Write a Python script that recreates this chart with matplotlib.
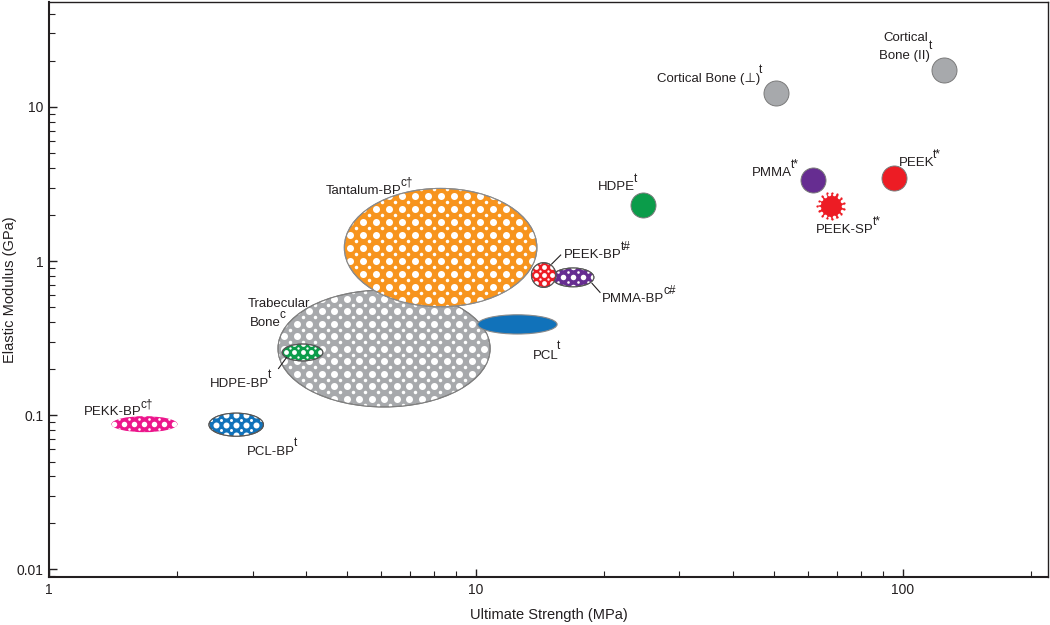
import numpy as np
import matplotlib
matplotlib.use("Agg")
import matplotlib.pyplot as plt
from matplotlib.patches import Ellipse
from matplotlib.transforms import Affine2D
from matplotlib.ticker import LogLocator, NullFormatter, FixedLocator, FixedFormatter

plt.rcParams['font.family'] = ['Liberation Sans', 'DejaVu Sans']

# ---------------- data ----------------
# range-type materials (ellipses): strength range (MPa), modulus range (GPa)
region_names = ['Trabecular Bone', 'Tantalum-BP', 'PCL', 'HDPE-BP',
                'PMMA-BP', 'PEEK-BP', 'PCL-BP', 'PEKK-BP']
strength_lo = [3.44, 4.92, 10.1, 3.52, 15.1, 13.5, 2.37, 1.40]
strength_hi = [10.8, 13.9, 15.5, 4.38, 18.9, 15.4, 3.18, 2.00]
modulus_lo = [0.113, 0.505, 0.336, 0.225, 0.681, 0.675, 0.073, 0.0775]
modulus_hi = [0.648, 2.96, 0.448, 0.289, 0.901, 0.975, 0.103, 0.0985]

# single-value materials (circles)
point_names = ['Cortical Bone (⊥)', 'Cortical Bone (II)', 'HDPE', 'PMMA', 'PEEK', 'PEEK-SP']
point_strength = [50.4, 124.7, 24.6, 61.5, 95.3, 67.8]
point_modulus = [12.3, 17.5, 2.31, 3.36, 3.46, 2.28]

x_ticks = [1, 10, 100]
x_tick_labels = ['1', '10', '100']
y_ticks = [0.01, 0.1, 1, 10]
y_tick_labels = ['0.01', '0.1', '1', '10']

# ---------------- styles ----------------
GRAY = '#A7A9AC'
ORANGE = '#F7941D'
BLUE = '#1172BA'
GREEN = '#0B9C4A'
PURPLE = '#662D91'
RED = '#ED1C24'
PINK = '#EC168C'
TXT = '#231f20'

region_style = {
    # face, pattern (spacing px, big dot px, small dot px) or None, edgecolor
    'Trabecular Bone': (GRAY, (12.5, 7.0, 3.5), '#7f7f7f'),
    'Tantalum-BP': (ORANGE, (13.0, 7.0, 3.5), '#8a8a8a'),
    'PCL': (BLUE, None, '#8a8a8a'),
    'HDPE-BP': (GREEN, (8.5, 4.8, 2.4), '#555555'),
    'PMMA-BP': (PURPLE, (10.0, 5.5, 2.6), '#555555'),
    'PEEK-BP': (RED, (8.0, 4.8, 2.4), '#555555'),
    'PCL-BP': (BLUE, (10.0, 6.0, 3.0), '#555555'),
    'PEKK-BP': (PINK, (10.0, 5.5, 2.6), 'none'),
}
point_color = {'Cortical Bone (⊥)': GRAY, 'Cortical Bone (II)': GRAY, 'HDPE': GREEN,
               'PMMA': PURPLE, 'PEEK': RED, 'PEEK-SP': RED}

# label: (main text, superscript, dx px, dy px of baseline-left from mark centre, sup raise px)
region_labels = {
    'Trabecular Bone': [('Trabecular', '', -136, 42, 0), ('Bone', 'c', -134, 23, 8)],
    'Tantalum-BP': [('Tantalum-BP', 'c†', -115, 54, 8)],
    'PCL': [('PCL', 't', 15, -35, 10)],
    'HDPE-BP': [('HDPE-BP', 't', -93, -35, 9)],
    'PMMA-BP': [('PMMA-BP', 'c#', 29, -25, 8)],
    'PEEK-BP': [('PEEK-BP', 't#', 20, 17, 8)],
    'PCL-BP': [('PCL-BP', 't', 11, -30, 9)],
    'PEKK-BP': [('PEKK-BP', 'c†', -61, 9, 8)],
}
point_labels = {
    'Cortical Bone (⊥)': [('Cortical Bone (⊥)', 't', -119, 11, 9)],
    'Cortical Bone (II)': [('Cortical', '', -60, 29, 0), ('Bone (II)', 't', -65, 11, 10)],
    'HDPE': [('HDPE', 't', -45, 15, 8)],
    'PMMA': [('PMMA', 't*', -61, 4, 8)],
    'PEEK': [('PEEK', 't*', 5, 12, 8)],
    'PEEK-SP': [('PEEK-SP', 't*', -15, -27, 8)],
}
leaders = {
    'HDPE-BP': ((-16, -5), (-24, -16)),
    'PEEK-BP': ((8, 11), (17, 20)),
    'PMMA-BP': ((19, -6), (27, -15)),
}
zorder_region = {'Trabecular Bone': 2, 'Tantalum-BP': 3, 'PCL': 4, 'HDPE-BP': 5,
                 'PMMA-BP': 5, 'PEEK-BP': 6, 'PCL-BP': 5, 'PEKK-BP': 5}

# ---------------- figure ----------------
W, H, DPI = 1050, 625, 100
fig = plt.figure(figsize=(W / DPI, H / DPI), dpi=DPI)
ax_l, ax_b, ax_w, ax_h = 49, 48, 999, 575
ax = fig.add_axes([ax_l / W, ax_b / H, ax_w / W, ax_h / H])
ax.set_xscale('log')
ax.set_yscale('log')
xlim = (1.0, 219.0)
ylim = (0.0089, 48.0)
ax.set_xlim(*xlim)
ax.set_ylim(*ylim)
lx0, lx1 = np.log10(xlim)
ly0, ly1 = np.log10(ylim)
renderer = fig.canvas.get_renderer()

# transform: (log10 x, log10 y) -> display
logT = Affine2D().translate(-lx0, -ly0).scale(1 / (lx1 - lx0), 1 / (ly1 - ly0)) + ax.transAxes


def to_axes(lx, ly):
    return (lx - lx0) / (lx1 - lx0), (ly - ly0) / (ly1 - ly0)


def put_label(cax, cay, main, sup, dx, dy, raise_px):
    t = ax.text(cax + dx / ax_w, cay + dy / ax_h, main, transform=ax.transAxes,
                ha='left', va='baseline', fontsize=9.5, color=TXT, zorder=10)
    if sup:
        bb = t.get_window_extent(renderer)
        xa = ax.transAxes.inverted().transform((bb.x1, bb.y0))[0]
        ax.text(xa - 1.0 / ax_w, cay + (dy + raise_px) / ax_h, sup, transform=ax.transAxes,
                ha='left', va='baseline', fontsize=8.5, color=TXT, zorder=10)


for i, name in enumerate(region_names):
    face, pattern, edge = region_style[name]
    clx = (np.log10(strength_lo[i]) + np.log10(strength_hi[i])) / 2
    cly = (np.log10(modulus_lo[i]) + np.log10(modulus_hi[i])) / 2
    wl = np.log10(strength_hi[i]) - np.log10(strength_lo[i])
    hl = np.log10(modulus_hi[i]) - np.log10(modulus_lo[i])
    z = zorder_region[name]
    e = Ellipse((clx, cly), wl, hl, transform=logT, facecolor=face,
                edgecolor=edge, linewidth=0.8, zorder=z)
    ax.add_patch(e)
    cax, cay = to_axes(clx, cly)
    if pattern is not None:
        sp, big, small = pattern
        wpx = wl / (lx1 - lx0) * ax_w
        hpx = hl / (ly1 - ly0) * ax_h
        nx = int(wpx / sp / 2) + 2
        ny = int(hpx / sp / 2) + 2
        gi, gj = np.meshgrid(np.arange(-nx, nx + 1), np.arange(-ny, ny + 1))
        bx = cax + gi.ravel() * sp / ax_w
        by = cay + gj.ravel() * sp / ax_h
        sx = cax + (gi.ravel() + 0.5) * sp / ax_w
        sy = cay + (gj.ravel() + 0.5) * sp / ax_h
        s1 = ax.scatter(bx, by, s=(big * 0.72) ** 2, color='white', linewidths=0,
                        transform=ax.transAxes, zorder=z + 0.1)
        s1.set_clip_path(e)
        s2 = ax.scatter(sx, sy, s=(small * 0.72) ** 2, color='white', linewidths=0,
                        transform=ax.transAxes, zorder=z + 0.1)
        s2.set_clip_path(e)
        if edge != 'none':
            ax.add_patch(Ellipse((clx, cly), wl, hl, transform=logT, facecolor='none',
                                 edgecolor=edge, linewidth=0.8, zorder=z + 0.2))
    for main, sup, dx, dy, rp in region_labels[name]:
        put_label(cax, cay, main, sup, dx, dy, rp)
    if name in leaders:
        (x1, y1), (x2, y2) = leaders[name]
        ax.plot([cax + x1 / ax_w, cax + x2 / ax_w], [cay + y1 / ax_h, cay + y2 / ax_h],
                transform=ax.transAxes, color=TXT, lw=0.8, zorder=10)

for i, name in enumerate(point_names):
    col = point_color[name]
    px, py = point_strength[i], point_modulus[i]
    cax, cay = to_axes(np.log10(px), np.log10(py))
    if name == 'PEEK-SP':
        ax.scatter([px], [py], s=(26 * 0.72) ** 2, color=col, linewidths=0, zorder=7)
        ang = np.linspace(0, 2 * np.pi, 15, endpoint=False)
        ax.scatter(cax + 12.0 * np.cos(ang) / ax_w, cay + 12.0 * np.sin(ang) / ax_h,
                   s=(3.6 * 0.72) ** 2, color='white', linewidths=0,
                   transform=ax.transAxes, zorder=7.5)
        ang2 = ang + np.pi / 15
        ax.scatter(cax + 13.2 * np.cos(ang2) / ax_w, cay + 13.2 * np.sin(ang2) / ax_h,
                   s=(2.2 * 0.72) ** 2, color=col, linewidths=0,
                   transform=ax.transAxes, zorder=7.6)
    else:
        ax.scatter([px], [py], s=(25 * 0.72) ** 2, color=col, edgecolors='#7a7a7a',
                   linewidths=0.7, zorder=7)
    for main, sup, dx, dy, rp in point_labels[name]:
        put_label(cax, cay, main, sup, dx, dy, rp)

# ---------------- axes styling ----------------
for sp_ in ax.spines.values():
    sp_.set_linewidth(1.0)
    sp_.set_color(TXT)
ax.spines['left'].set_linewidth(1.5)
ax.spines['bottom'].set_linewidth(1.5)

ax.xaxis.set_major_locator(FixedLocator(x_ticks))
ax.xaxis.set_major_formatter(FixedFormatter(x_tick_labels))
ax.yaxis.set_major_locator(FixedLocator(y_ticks))
ax.yaxis.set_major_formatter(FixedFormatter(y_tick_labels))
ax.xaxis.set_minor_locator(LogLocator(base=10, subs=np.arange(2, 10), numticks=20))
ax.yaxis.set_minor_locator(LogLocator(base=10, subs=np.arange(2, 10), numticks=20))
ax.xaxis.set_minor_formatter(NullFormatter())
ax.yaxis.set_minor_formatter(NullFormatter())
ax.tick_params(which='both', direction='in', top=False, right=False,
               colors=TXT, labelsize=10)
ax.tick_params(which='major', length=6, width=1.0, pad=4)
ax.tick_params(which='minor', length=4, width=0.8)

ax.set_xlabel('Ultimate Strength (MPa)', fontsize=10.5, color=TXT, labelpad=8)
ax.set_ylabel('Elastic Modulus (GPa)', fontsize=10.5, color=TXT, labelpad=0)

fig.savefig('out.png', dpi=DPI)
